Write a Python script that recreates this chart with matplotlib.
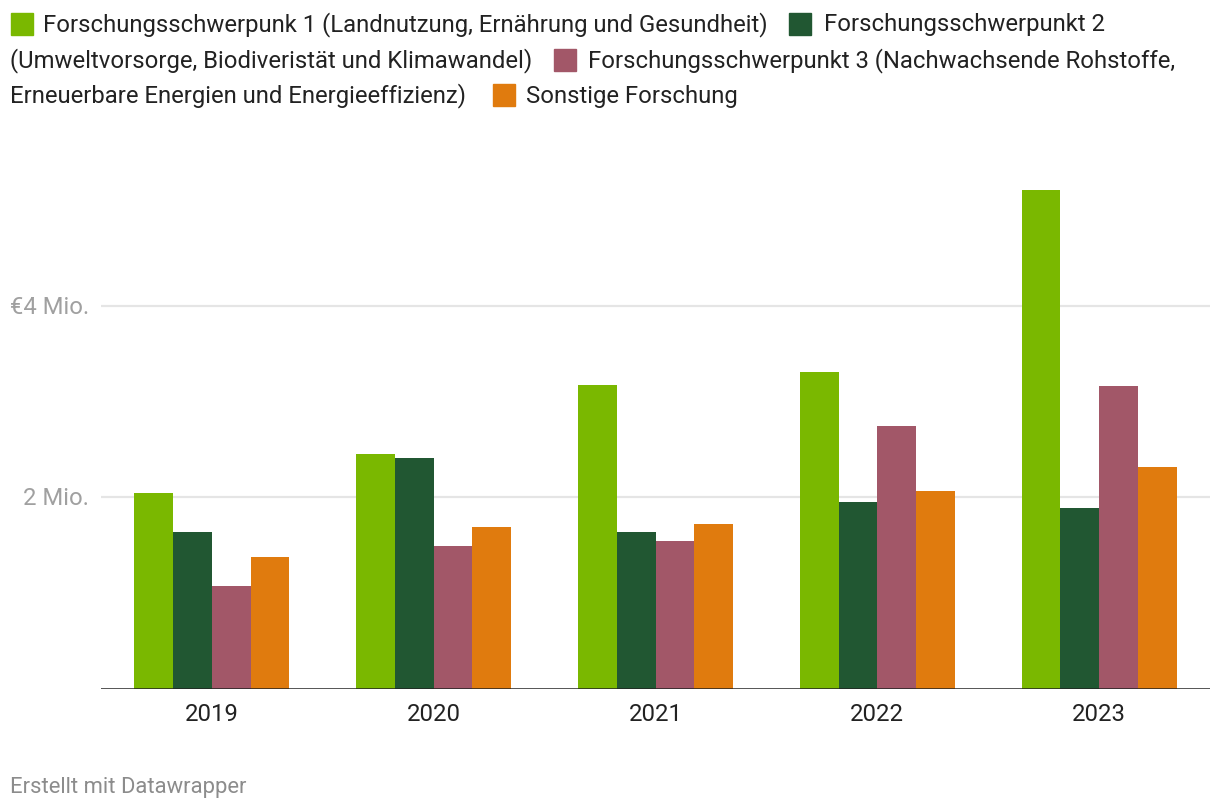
import numpy as np
import matplotlib.pyplot as plt

plt.rcParams['font.family'] = ['Roboto', 'DejaVu Sans']

years = ['2019', '2020', '2021', '2022', '2023']
fsp1 = [2.045, 2.453, 3.175, 3.31, 5.214]
fsp2 = [1.637, 2.411, 1.637, 1.955, 1.888]
fsp3 = [1.072, 1.49, 1.543, 2.746, 3.164]
sonst = [1.375, 1.689, 1.72, 2.066, 2.317]

legend_rows = [
    ['Forschungsschwerpunk 1 (Landnutzung, Ernährung und Gesundheit)', 'Forschungsschwerpunkt 2'],
    ['(Umweltvorsorge, Biodiveristät und Klimawandel)', 'Forschungsschwerpunkt 3 (Nachwachsende Rohstoffe,'],
    ['Erneuerbare Energien und Energieeffizienz)', 'Sonstige Forschung'],
]
colors = ['#7ab800', '#215732', '#a25768', '#e07b0e']
series = [fsp1, fsp2, fsp3, sonst]

W, H = 1220, 812
fs = 17.2
fig = plt.figure(figsize=(W / 100, H / 100), dpi=100)
ax = fig.add_axes([101 / W, (H - 689.5) / H, 1109 / W, 5.5 * 95.6 / H])

x = np.arange(len(years))
bw = 0.1747
for i, (vals, c) in enumerate(zip(series, colors)):
    ax.bar(x + (i - 1.5) * bw, vals, width=bw, color=c, linewidth=0, zorder=2)

ax.set_xlim(-0.5, 4.5)
ax.set_ylim(0, 5.5)
ax.set_yticks([])
for v, t in [(2, '2 Mio.'), (4, '€4 Mio.')]:
    ax.axhline(v, color='#e5e5e5', lw=1.6, zorder=1)
    ax.text(-0.555, v, t, ha='right', va='center', fontsize=fs, color='#a0a0a0')
ax.axhline(0, color='#222222', lw=1.8, zorder=3)
for s in ax.spines.values():
    s.set_visible(False)
ax.tick_params(left=False, bottom=False)
ax.set_xticks(x)
ax.set_xticklabels(years, fontsize=fs, color='#222222')
ax.tick_params(axis='x', pad=6)

# legend, flowing like the original
fig.canvas.draw()
r = fig.canvas.get_renderer()
line_y = [25, 61, 96]
sq = 22

def put_square(px, row, c):
    fig.patches.append(plt.Rectangle((px / W, (H - line_y[row] - sq / 2) / H), sq / W, sq / H,
                                     transform=fig.transFigure, color=c, figure=fig))

def put_text(px, row, s):
    t = fig.text(px / W, (H - line_y[row]) / H, s, fontsize=fs, color='#222222', va='center', ha='left')
    return t.get_window_extent(r).x1

put_square(11, 0, colors[0])
end = put_text(43, 0, legend_rows[0][0])
px = end + 21
put_square(px, 0, colors[1])
put_text(px + sq + 13, 0, legend_rows[0][1])
end = put_text(10, 1, legend_rows[1][0])
px = end + 22
put_square(px, 1, colors[2])
put_text(px + sq + 12, 1, legend_rows[1][1])
end = put_text(10, 2, legend_rows[2][0])
px = end + 27
put_square(px, 2, colors[3])
put_text(px + sq + 11, 2, legend_rows[2][1])

fig.text(10 / W, (H - 788) / H, 'Erstellt mit Datawrapper', fontsize=15.8, color='#8c8c8c', va='center')

fig.savefig('out.png', dpi=100, facecolor='white')
